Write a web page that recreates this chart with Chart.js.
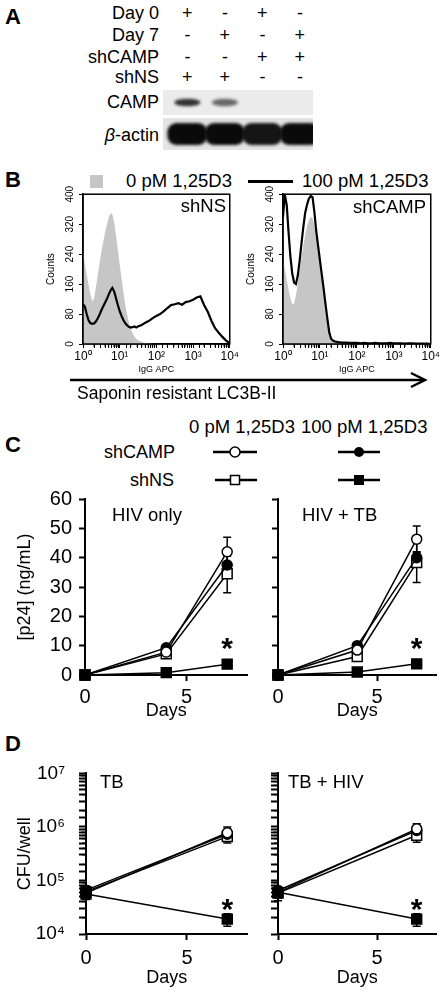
<!DOCTYPE html>
<html>
<head>
<meta charset="utf-8">
<title>CAMP knockdown figure</title>
<script src="https://cdn.jsdelivr.net/npm/chart.js@4.4.1/dist/chart.umd.min.js"></script>
<style>
  body { margin: 0; background: #fff; }
  #fig { position: relative; width: 446px; height: 994px; overflow: hidden;
         font-family: "Liberation Sans", Arial, sans-serif; color: #000; }
  #fig canvas, #fig svg, .t { position: absolute; }
  .t { white-space: nowrap; line-height: 1; font-size: 18px; }
  .lbl { font-size: 22px; font-weight: bold; }
  .sign { width: 20px; text-align: center; }
</style>
</head>
<body>
<div id="fig">
  <!-- panel A -->
  <div class="t lbl" style="left:5px;top:6px">A</div>
  <div class="t" style="right:287px;top:4px">Day 0</div>
  <div class="t" style="right:287px;top:26px">Day 7</div>
  <div class="t" style="right:287px;top:48px">shCAMP</div>
  <div class="t" style="right:287px;top:68px">shNS</div>
  <div class="t" style="right:287px;top:93px">CAMP</div>
  <div class="t" style="right:287px;top:126px"><i>β</i>-actin</div>
  <canvas id="blot" width="150" height="60" style="left:163px;top:90px"></canvas>

  <!-- panel B -->
  <div class="t lbl" style="left:5px;top:169px">B</div>
  <div style="position:absolute;left:90px;top:175px;width:13px;height:13px;background:#c6c6c6"></div>
  <div class="t" style="left:126px;top:172px;font-size:18.5px">0 pM 1,25D3</div>
  <div style="position:absolute;left:248px;top:180px;width:45px;height:3px;background:#000"></div>
  <div class="t" style="left:302px;top:172px;font-size:18.5px">100 pM 1,25D3</div>
  <canvas id="histNS" width="210" height="196" style="left:30px;top:184px"></canvas>
  <canvas id="histCAMP" width="211" height="196" style="left:230px;top:184px"></canvas>
  <div class="t" style="right:220px;top:197px;font-size:18.5px">shNS</div>
  <div class="t" style="right:20px;top:198px;font-size:18.5px">shCAMP</div>
  <svg width="446" height="20" style="left:0;top:370px">
    <line x1="70" y1="10" x2="424" y2="10" stroke="#000" stroke-width="2.5"/>
    <polyline points="411,3 425,10 411,17" fill="none" stroke="#000" stroke-width="2.5"/>
  </svg>
  <div class="t" style="left:77px;top:385px;font-size:17.5px">Saponin resistant LC3B-II</div>

  <!-- panel C -->
  <div class="t lbl" style="left:5px;top:434px">C</div>
  <div class="t" style="left:189px;top:418px;font-size:18.5px">0 pM 1,25D3</div>
  <div class="t" style="left:301px;top:418px;font-size:18.5px">100 pM 1,25D3</div>
  <div class="t" style="right:271px;top:443px">shCAMP</div>
  <div class="t" style="right:272px;top:471px">shNS</div>
  <svg width="446" height="50" style="left:0;top:440px">
    <line x1="213" y1="12" x2="257" y2="12" stroke="#000" stroke-width="2.5"/>
    <circle cx="235" cy="12" r="5" fill="#fff" stroke="#000" stroke-width="1.5"/>
    <line x1="338" y1="12" x2="380" y2="12" stroke="#000" stroke-width="2.5"/>
    <circle cx="359" cy="12" r="5" fill="#000"/>
    <line x1="215" y1="40" x2="257" y2="40" stroke="#000" stroke-width="2.5"/>
    <rect x="230.5" y="35.5" width="9" height="9" fill="#fff" stroke="#000" stroke-width="1.5"/>
    <line x1="338" y1="40" x2="380" y2="40" stroke="#000" stroke-width="2.5"/>
    <rect x="354" y="35" width="10" height="10" fill="#000"/>
  </svg>
  <canvas id="p24Hiv" width="256" height="242" style="left:0;top:480px"></canvas>
  <canvas id="p24HivTb" width="189" height="242" style="left:256px;top:480px"></canvas>
  <div class="t" style="left:112px;top:506px;font-size:18.5px">HIV only</div>
  <div class="t" style="left:302px;top:506px;font-size:18.5px">HIV + TB</div>

  <!-- panel D -->
  <div class="t lbl" style="left:5px;top:733px">D</div>
  <canvas id="cfuTb" width="256" height="241" style="left:0;top:748px"></canvas>
  <canvas id="cfuTbHiv" width="189" height="241" style="left:256px;top:748px"></canvas>
  <div class="t" style="left:100px;top:773px;font-size:18.5px">TB</div>
  <div class="t" style="left:288px;top:773px;font-size:18.5px">TB + HIV</div>
</div>

<script>
// ---- panel A: lane conditions and band strength (0 = no band)
const day0Signs   = ['+', '-', '+', '-'];
const day7Signs   = ['-', '+', '-', '+'];
const shCampSigns = ['-', '-', '+', '+'];
const shNsSigns   = ['+', '+', '-', '-'];
const campBand  = [0.85, 0.6, 0, 0];
const actinBand = [1, 1, 0.95, 1];

// ---- panel B: flow histograms (IgG APC channel vs counts)
const apcChannels = [1, 1.12, 1.26, 1.41, 1.58, 1.78, 2, 2.24, 2.51, 2.82,
  3.16, 3.55, 3.98, 4.47, 5.01, 5.62, 6.31, 7.08, 7.94, 8.91,
  10, 11.2, 12.6, 14.1, 15.8, 17.8, 20, 22.4, 25.1, 28.2,
  31.6,
  39.8, 50.1, 63.1, 79.4, 100, 126, 158, 200, 251, 316,
  398, 501, 631, 794, 1000, 1259, 1585, 1995, 2512, 3162,
  3981, 5012, 6310, 7943, 10000];
const shNsZero = [250, 215, 185, 160, 135, 114, 120, 150, 182, 215,
  245, 272, 297, 318, 338, 350, 346, 325, 290, 252,
  212, 176, 140, 106, 80, 58, 41, 29, 20, 14,
  10,
  6, 3, 2, 1, 1, 0, 0, 0, 0, 0,
  0, 0, 0, 0, 0, 0, 0, 0, 0, 0,
  0, 0, 0, 0, 0];
const shNsVitD = [106, 100, 80, 64, 56, 54, 55, 60, 68, 78,
  90, 100, 110, 120, 132, 143, 150, 140, 122, 104,
  88, 75, 64, 56, 50, 46, 44, 45, 47, 44,
  47,
  51, 57, 62, 69, 75, 80, 87, 96, 104, 106,
  109, 105, 112, 114, 118, 124, 127, 104, 86, 62,
  42, 30, 19, 9, 2];
const shCampZero = [225, 200, 172, 146, 122, 106, 108, 130, 160, 195,
  230, 262, 290, 315, 330, 340, 336, 318, 288, 252,
  215, 176, 140, 100, 66, 36, 18, 10, 6, 4,
  3,
  2, 1, 0, 0, 0, 0, 0, 0, 0, 0,
  0, 0, 0, 0, 0, 0, 0, 0, 0, 0,
  0, 0, 0, 0, 0];
const shCampVitD = [340, 398, 372, 300, 235, 188, 164, 160, 182, 222,
  268, 312, 350, 372, 388, 395, 392, 352, 302, 262,
  224, 186, 148, 108, 70, 32, 14, 9, 7, 6,
  5,
  4, 4, 3, 3, 3, 2, 3, 2, 2, 3,
  2, 2, 2, 3, 2, 2, 2, 1, 2, 2,
  1, 1, 1, 1, 0];

// ---- panel C: p24 (ng/mL)
const p24Days = [0, 4, 7];
const p24HivCamp0 = [0, 7.8, 42];   const p24HivCamp0Err = [0, 0.6, 5];
const p24HivCampD = [0, 9.3, 37.5]; const p24HivCampDErr = [0, 0.6, 3];
const p24HivNs0   = [0, 7.2, 34.5]; const p24HivNs0Err   = [0, 0.6, 6.5];
const p24HivNsD   = [0, 0.8, 3.7];  const p24HivNsDErr   = [0, 0.2, 0.4];
const p24HivTbCamp0 = [0, 8.5, 46.3]; const p24HivTbCamp0Err = [0, 0.8, 4.5];
const p24HivTbCampD = [0, 10, 40];    const p24HivTbCampDErr = [0, 0.8, 2];
const p24HivTbNs0   = [0, 6.3, 38.3]; const p24HivTbNs0Err   = [0, 0.8, 6.8];
const p24HivTbNsD   = [0, 1, 3.8];    const p24HivTbNsDErr   = [0, 0.2, 0.4];

// ---- panel D: CFU/well
const cfuDays = [0, 7];
const cfuTbCamp0 = [5.8e4, 7.8e5]; const cfuTbCamp0Err = [1.4e4, 2.2e5];
const cfuTbCampD = [6.6e4, 7.3e5]; const cfuTbCampDErr = [1.2e4, 1.8e5];
const cfuTbNs0   = [6.2e4, 6.6e5]; const cfuTbNs0Err   = [1.5e4, 1.6e5];
const cfuTbNsD   = [5.6e4, 1.9e4]; const cfuTbNsDErr   = [1.1e4, 5e3];
const cfuTbHivCamp0 = [6.0e4, 9.2e5]; const cfuTbHivCamp0Err = [1.3e4, 2.3e5];
const cfuTbHivCampD = [6.5e4, 8.6e5]; const cfuTbHivCampDErr = [1.2e4, 1.6e5];
const cfuTbHivNs0   = [5.8e4, 7.0e5]; const cfuTbHivNs0Err   = [1.6e4, 1.8e5];
const cfuTbHivNsD   = [6.0e4, 1.9e4]; const cfuTbHivNsDErr   = [1.2e4, 5e3];

const FONT = '"Liberation Sans", Arial, sans-serif';
Chart.defaults.font.family = FONT;
Chart.defaults.color = '#000';

const sup = {'0': '⁰', '1': '¹', '2': '²', '3': '³', '4': '⁴', '5': '⁵', '6': '⁶', '7': '⁷'};
function powLabel(v) {
  const e = Math.log10(v);
  if (Math.abs(e - Math.round(e)) > 1e-6) return '';
  return '10' + sup[String(Math.round(e))];
}

// ---------- plugins
const blotBands = {
  id: 'blotBands',
  beforeDraw(chart) {
    const {ctx, chartArea: a} = chart;
    const xs = chart.scales.x, ys = chart.scales.y;
    ctx.save();
    ctx.fillStyle = '#ebebeb';
    ctx.fillRect(a.left, ys.getPixelForValue(0), a.right - a.left, ys.getPixelForValue(25) - ys.getPixelForValue(0));
    ctx.fillStyle = '#e4e4e4';
    ctx.fillRect(a.left, ys.getPixelForValue(28), a.right - a.left, ys.getPixelForValue(60) - ys.getPixelForValue(28));
    ctx.filter = 'blur(1.5px)';
    campBand.forEach((v, i) => {
      if (!v) return;
      ctx.fillStyle = 'rgba(15,15,15,' + v + ')';
      ctx.beginPath();
      ctx.ellipse(xs.getPixelForValue(i), ys.getPixelForValue(12.5), 13, 3.8, 0, 0, Math.PI * 2);
      ctx.fill();
    });
    actinBand.forEach((v, i) => {
      const x = xs.getPixelForValue(i), y = ys.getPixelForValue(44);
      ctx.fillStyle = 'rgba(10,10,10,' + v + ')';
      ctx.beginPath();
      ctx.roundRect(x - 20, y - 11, 40, 22, 9);
      ctx.fill();
    });
    ctx.restore();
  }
};

const frame = {
  id: 'frame',
  afterDraw(chart) {
    const {ctx, chartArea: a} = chart;
    ctx.save();
    ctx.strokeStyle = '#000';
    ctx.lineWidth = 1.5;
    ctx.strokeRect(a.left, a.top, a.right - a.left, a.bottom - a.top);
    ctx.restore();
  }
};

const rotTicks = {
  id: 'rotTicks',
  afterDraw(chart) {
    const s = chart.scales.y, ctx = chart.ctx;
    ctx.save();
    ctx.font = '10px ' + FONT;
    ctx.fillStyle = '#000';
    ctx.textAlign = 'center';
    ctx.textBaseline = 'middle';
    s.ticks.forEach(t => {
      ctx.save();
      ctx.translate(s.right - 13, s.getPixelForValue(t.value));
      ctx.rotate(-Math.PI / 2);
      ctx.fillText(String(t.value), 0, 0);
      ctx.restore();
    });
    ctx.restore();
  }
};

// short marks at 2..9 x 10^k on a log axis
const minorTicks = {
  id: 'minorTicks',
  afterDraw(chart, args, opts) {
    const s = chart.scales[opts.axis];
    if (!s) return;
    const ctx = chart.ctx;
    ctx.save();
    ctx.strokeStyle = '#000';
    ctx.lineWidth = 1;
    ctx.beginPath();
    for (let e = Math.round(Math.log10(s.min)); e < Math.round(Math.log10(s.max)); e++) {
      for (let m = 2; m < 10; m++) {
        const p = s.getPixelForValue(m * Math.pow(10, e));
        if (opts.axis === 'y') { ctx.moveTo(s.right - opts.len, p); ctx.lineTo(s.right, p); }
        else { ctx.moveTo(p, s.top); ctx.lineTo(p, s.top + opts.len); }
      }
    }
    ctx.stroke();
    ctx.restore();
  }
};

const errorBars = {
  id: 'errorBars',
  beforeDatasetsDraw(chart) {
    const ctx = chart.ctx, ys = chart.scales.y;
    ctx.save();
    ctx.strokeStyle = '#000';
    ctx.lineWidth = 1.5;
    chart.data.datasets.forEach((ds, i) => {
      const pts = chart.getDatasetMeta(i).data;
      ds.errors.forEach((e, j) => {
        if (!e) return;
        const v = ds.data[j].y, x = pts[j].x;
        const yt = ys.getPixelForValue(v + e), yb = ys.getPixelForValue(v - e);
        ctx.beginPath();
        ctx.moveTo(x, yt); ctx.lineTo(x, yb);
        ctx.moveTo(x - 4, yt); ctx.lineTo(x + 4, yt);
        ctx.moveTo(x - 4, yb); ctx.lineTo(x + 4, yb);
        ctx.stroke();
      });
    });
    ctx.restore();
  }
};

const star = {
  id: 'star',
  afterDatasetsDraw(chart, args, opts) {
    if (!opts.at) return;
    const ctx = chart.ctx;
    const x = chart.scales.x.getPixelForValue(opts.at[0]);
    const y = chart.scales.y.getPixelForValue(opts.at[1]);
    ctx.save();
    ctx.font = 'bold 30px ' + FONT;
    ctx.fillStyle = '#000';
    ctx.textAlign = 'center';
    ctx.textBaseline = 'middle';
    ctx.fillText('*', x, y + 7);
    ctx.restore();
  }
};

// ---------- panel A blot
const blotChart = new Chart(document.getElementById('blot'), {
  type: 'scatter',
  data: { datasets: [] },
  options: {
    responsive: false, animation: false, events: [],
    layout: { padding: 0 },
    plugins: { legend: { display: false }, tooltip: { enabled: false } },
    scales: {
      x: { type: 'linear', min: -0.65, max: 3.35, display: false },
      y: { type: 'linear', min: 0, max: 60, reverse: true, display: false }
    }
  },
  plugins: [blotBands]
});

// +/- signs placed over the blot lanes
const fig = document.getElementById('fig');
[[day0Signs, 4], [day7Signs, 26], [shCampSigns, 48], [shNsSigns, 68]].forEach(([signs, top]) => {
  signs.forEach((s, i) => {
    const d = document.createElement('div');
    d.className = 't sign';
    d.textContent = s;
    d.style.left = (163 + blotChart.scales.x.getPixelForValue(i) - 10) + 'px';
    d.style.top = top + 'px';
    fig.appendChild(d);
  });
});

// ---------- panel B histograms
function histChart(id, greyVals, blackVals) {
  new Chart(document.getElementById(id), {
    type: 'line',
    data: {
      datasets: [
        { data: apcChannels.map((x, i) => ({ x, y: blackVals[i] })), borderColor: '#000', borderWidth: 2.2,
          pointRadius: 0, fill: false, tension: 0 },
        { data: apcChannels.map((x, i) => ({ x, y: greyVals[i] })), borderColor: 'rgba(0,0,0,0)', borderWidth: 0,
          backgroundColor: '#c6c6c6', pointRadius: 0, fill: 'origin', tension: 0 }
      ]
    },
    options: {
      responsive: false, animation: false, events: [],
      layout: { padding: { top: 10, right: 8 } },
      plugins: { legend: { display: false }, tooltip: { enabled: false }, minorTicks: { axis: 'x', len: 3 } },
      scales: {
        x: {
          type: 'logarithmic', min: 1, max: 10000,
          afterFit: s => { s.height = 36; },
          grid: { drawOnChartArea: false, tickLength: 4, color: '#000' },
          border: { color: '#000', width: 1.5 },
          ticks: { autoSkip: false, maxRotation: 0, padding: 1, font: { size: 12 }, callback: v => powLabel(v) },
          title: { display: true, text: 'IgG APC', font: { size: 9 }, padding: { top: 0, bottom: 5 } }
        },
        y: {
          min: 0, max: 400,
          afterFit: s => { s.width = 53; },
          grid: { drawOnChartArea: false, tickLength: 4, color: '#000' },
          border: { color: '#000', width: 1.5 },
          ticks: { stepSize: 80, callback: () => '' },
          title: { display: true, text: 'Counts', font: { size: 10 }, padding: { top: 15, bottom: 0 } }
        }
      }
    },
    plugins: [frame, rotTicks, minorTicks]
  });
}
histChart('histNS', shNsZero, shNsVitD);
histChart('histCAMP', shCampZero, shCampVitD);

// ---------- panels C and D
function series(xs, vals, errs, style, filled) {
  return {
    data: xs.map((x, i) => ({ x, y: vals[i] })), errors: errs,
    borderColor: '#000', borderWidth: 1.5, tension: 0, clip: false,
    pointStyle: style, pointRadius: style === 'rect' ? 7 : 5,
    pointBackgroundColor: filled ? '#000' : '#fff', pointBorderColor: '#000', pointBorderWidth: 1.5
  };
}

function growthChart(id, datasets, yScale, xPad, xHeight, padTop, starAt, logY) {
  return new Chart(document.getElementById(id), {
    type: 'line',
    data: { datasets },
    options: {
      responsive: false, animation: false, events: [],
      layout: { padding: { top: padTop, right: 8 } },
      plugins: {
        legend: { display: false }, tooltip: { enabled: false }, star: { at: starAt },
        minorTicks: { axis: logY ? 'y' : 'none', len: 4 }
      },
      scales: {
        x: {
          type: 'linear', min: 0, max: 8,
          afterBuildTicks: s => { s.ticks = s.ticks.filter(t => t.value % 5 === 0); },
          afterFit: s => { s.height = xHeight; },
          grid: { drawOnChartArea: false, tickLength: 6, tickWidth: 2, color: '#000' },
          border: { color: '#000', width: 2 },
          ticks: { stepSize: 5, maxRotation: 0, padding: xPad, font: { size: 20 } },
          title: { display: true, text: 'Days', font: { size: 18 }, padding: 0 }
        },
        y: yScale
      }
    },
    plugins: [errorBars, star, minorTicks]
  });
}

function p24Axis(withLabels) {
  return {
    min: 0, max: 60,
    afterFit: s => { s.width = withLabels ? 85 : 22; },
    grid: { drawOnChartArea: false, tickLength: 6, tickWidth: 2, color: '#000' },
    border: { color: '#000', width: 2 },
    ticks: { stepSize: 10, padding: 7, font: { size: 20 }, callback: v => withLabels ? v : '' },
    title: { display: withLabels, text: '[p24] (ng/mL)', font: { size: 18 }, padding: { top: 14, bottom: 0 } }
  };
}

function cfuAxis(withLabels) {
  return {
    type: 'logarithmic', min: 1e4, max: 1e7,
    afterFit: s => { s.width = withLabels ? 86 : 22; },
    grid: { drawOnChartArea: false, tickLength: 7, tickWidth: 2, color: '#000' },
    border: { color: '#000', width: 2 },
    ticks: { autoSkip: false, padding: 14, font: { size: 19 }, callback: v => withLabels ? powLabel(v) : '' },
    title: { display: withLabels, text: 'CFU/well', font: { size: 18 }, padding: { top: 14, bottom: 0 } }
  };
}

growthChart('p24Hiv', [
  series(p24Days, p24HivNsD, p24HivNsDErr, 'rect', true),
  series(p24Days, p24HivCamp0, p24HivCamp0Err, 'circle', false),
  series(p24Days, p24HivCampD, p24HivCampDErr, 'circle', true),
  series(p24Days, p24HivNs0, p24HivNs0Err, 'rect', false)
], p24Axis(true), 4, 47, 19, [7, 11], false);

growthChart('p24HivTb', [
  series(p24Days, p24HivTbNsD, p24HivTbNsDErr, 'rect', true),
  series(p24Days, p24HivTbCamp0, p24HivTbCamp0Err, 'circle', false),
  series(p24Days, p24HivTbCampD, p24HivTbCampDErr, 'circle', true),
  series(p24Days, p24HivTbNs0, p24HivTbNs0Err, 'rect', false)
], p24Axis(false), 4, 47, 19, [7, 11], false);

growthChart('cfuTb', [
  series(cfuDays, cfuTbNsD, cfuTbNsDErr, 'rect', true),
  series(cfuDays, cfuTbCamp0, cfuTbCamp0Err, 'circle', false),
  series(cfuDays, cfuTbCampD, cfuTbCampDErr, 'circle', true),
  series(cfuDays, cfuTbNs0, cfuTbNs0Err, 'rect', false)
], cfuAxis(true), 6, 55, 14, [7, 3.6e4], true);

growthChart('cfuTbHiv', [
  series(cfuDays, cfuTbHivNsD, cfuTbHivNsDErr, 'rect', true),
  series(cfuDays, cfuTbHivCamp0, cfuTbHivCamp0Err, 'circle', false),
  series(cfuDays, cfuTbHivCampD, cfuTbHivCampDErr, 'circle', true),
  series(cfuDays, cfuTbHivNs0, cfuTbHivNs0Err, 'rect', false)
], cfuAxis(false), 6, 55, 14, [7, 3.6e4], true);
</script>
</body>
</html>
